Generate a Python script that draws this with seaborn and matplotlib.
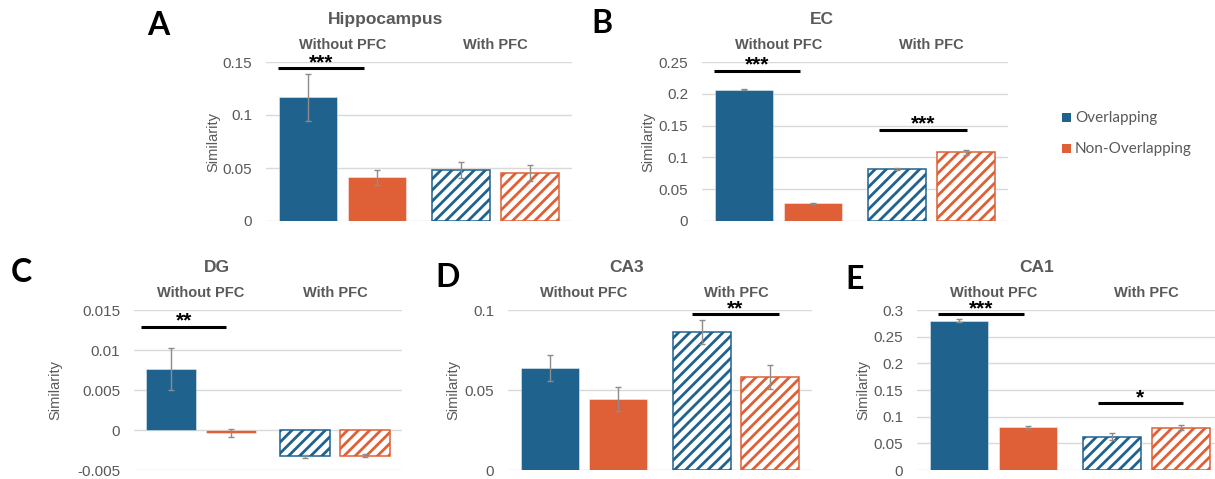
import numpy as np
import pandas as pd
import matplotlib
matplotlib.use('Agg')
import matplotlib.pyplot as plt
from matplotlib.patches import Rectangle
from matplotlib.ticker import FuncFormatter
import seaborn as sns

# ---------------- data ----------------
conditions = ['Without PFC', 'With PFC']
types = ['Overlapping', 'Non-Overlapping']
regions = ['Hippocampus', 'EC', 'DG', 'CA3', 'CA1']
panel_letters = ['A', 'B', 'C', 'D', 'E']

# order of values: [without-overlap, without-non, with-overlap, with-non]
hippocampus_mean = [0.1167, 0.0414, 0.0483, 0.0452]
hippocampus_err = [0.022, 0.007, 0.0075, 0.0072]
ec_mean = [0.2066, 0.0277, 0.0821, 0.1080]
ec_err = [0.0008, 0.0008, 0.0018, 0.0040]
dg_mean = [0.0076, -0.0004, -0.0033, -0.0032]
dg_err = [0.0026, 0.0005, 0.0002, 0.0002]
ca3_mean = [0.0638, 0.0442, 0.0863, 0.0581]
ca3_err = [0.0080, 0.0075, 0.0073, 0.0075]
ca1_mean = [0.2800, 0.0800, 0.0625, 0.0795]
ca1_err = [0.0030, 0.0030, 0.0060, 0.0040]

means = [hippocampus_mean, ec_mean, dg_mean, ca3_mean, ca1_mean]
errs = [hippocampus_err, ec_err, dg_err, ca3_err, ca1_err]

hippocampus_ticks = [0, 0.05, 0.1, 0.15]
ec_ticks = [0, 0.05, 0.1, 0.15, 0.2, 0.25]
dg_ticks = [-0.005, 0, 0.005, 0.01, 0.015]
ca3_ticks = [0, 0.05, 0.1]
ca1_ticks = [0, 0.05, 0.1, 0.15, 0.2, 0.25, 0.3]
yticks = [hippocampus_ticks, ec_ticks, dg_ticks, ca3_ticks, ca1_ticks]

# significance: (group index, start offset, end offset, y value, label)
hippocampus_sig = [(0, -0.42, 0.14, 0.1443, '***')]
ec_sig = [(0, -0.42, 0.14, 0.2364, '***'), (1, -0.34, 0.23, 0.1438, '***')]
dg_sig = [(0, -0.45, 0.19, 0.0129, '**')]
ca3_sig = [(1, -0.29, 0.28, 0.0973, '**')]
ca1_sig = [(0, -0.365, 0.20, 0.2925, '***'), (1, -0.32, 0.24, 0.1256, '*')]
sigs = [hippocampus_sig, ec_sig, dg_sig, ca3_sig, ca1_sig]

# ---------------- style ----------------
BLUE = '#1F628E'
ORANGE = '#DF6037'
GRAY_TXT = '#595959'
GRID = '#D9D9D9'
ERR = '#8C8C8C'

sns.set_theme(style='white')
plt.rcParams['font.family'] = ['Liberation Sans', 'DejaVu Sans']
plt.rcParams['hatch.linewidth'] = 2.0

W, H = 1215, 479
fig = plt.figure(figsize=(W / 100, H / 100), dpi=100)
fig.patch.set_facecolor('white')

# layout in pixels: axes (left, top, right, bottom)
axes_px = [(266, 62, 572, 221), (702, 62, 1008, 221),
           (134, 310, 402, 470), (508, 310, 812, 470), (917, 310, 1223, 470)]
title_px = [(386, 24), (822, 24), (217, 272), (627, 272), (1037, 272)]
letter_px = [(158, 35), (602, 33), (21, 282), (448, 287), (855, 289)]
ylabel_right_px = [220, 655, 62, 460, 870]


def px_axes(l, t, r, b):
    return fig.add_axes([l / W, 1 - b / H, (r - l) / W, (b - t) / H])


for i, reg in enumerate(regions):
    l, t, r, b = axes_px[i]
    ax = px_axes(l, t, r, b)
    df = pd.DataFrame({'condition': np.repeat(conditions, 2),
                       'type': types * 2,
                       'value': means[i]})
    sns.barplot(data=df, x='condition', y='value', hue='type',
                order=conditions, hue_order=types, palette=[BLUE, ORANGE],
                width=0.9, gap=0.16, errorbar=None, saturation=1,
                legend=False, ax=ax, zorder=2)
    bars = sorted(ax.patches, key=lambda p: p.get_x())
    xs = []
    for j, p in enumerate(bars):
        col = BLUE if j % 2 == 0 else ORANGE
        if j >= 2:
            p.set_facecolor('white')
            p.set_edgecolor(col)
            if hasattr(p, 'set_hatchcolor'):
                p.set_hatchcolor(col)
            p.set_hatch('///')
            p.set_linewidth(1.1)
        else:
            p.set_edgecolor((1, 1, 1, 0.5))
            p.set_linewidth(0.6)
        xs.append(p.get_x() + p.get_width() / 2)
    ax.errorbar(xs, means[i], yerr=errs[i], fmt='none', ecolor=ERR,
                elinewidth=1.0, capsize=2.5, capthick=1.0, zorder=3)

    ticks = yticks[i]
    ax.set_ylim(min(ticks), max(ticks))
    ax.set_xlim(-0.5, 1.5)
    ax.set_yticks(ticks)
    ax.yaxis.set_major_formatter(FuncFormatter(lambda v, pos: f'{v:g}'))
    ax.grid(axis='y', color=GRID, lw=1.0)
    ax.grid(axis='x', visible=False)
    ax.set_axisbelow(True)
    for s in ax.spines.values():
        s.set_visible(False)
    ax.tick_params(axis='y', length=0, pad=10, labelsize=11, labelcolor=GRAY_TXT)
    ax.xaxis.tick_top()
    ax.tick_params(axis='x', length=0, pad=7, labelsize=10.5, labelcolor=GRAY_TXT)
    for lbl in ax.get_xticklabels():
        lbl.set_fontweight('bold')
    ax.set_xlabel('')
    ax.set_ylabel('Similarity', fontsize=10.5, color=GRAY_TXT)
    ax.yaxis.set_label_coords((ylabel_right_px[i] - l) / (r - l), 0.5)

    for (g, x0, x1, yv, lab) in sigs[i]:
        ax.plot([g + x0, g + x1], [yv, yv], color='black', lw=2.2,
                solid_capstyle='butt', clip_on=False, zorder=4)
        ax.annotate(lab, xy=(g + (x0 + x1) / 2, yv), xytext=(0, 0),
                    textcoords='offset points', ha='center', va='baseline',
                    fontsize=15, fontweight='bold', color='black',
                    annotation_clip=False)

    tx, ty = title_px[i]
    fig.text(tx / W, 1 - ty / H, reg, ha='center', va='baseline',
             fontsize=12.5, fontweight='bold', color=GRAY_TXT)
    lx, ly = letter_px[i]
    fig.text(lx / W, 1 - ly / H, panel_letters[i], ha='center', va='baseline',
             fontsize=23, fontweight='bold', color='black',
             family=['Lato', 'DejaVu Sans'])

# legend
leg_items = [(BLUE, types[0], 117), (ORANGE, types[1], 148)]
for col, lab, yc in leg_items:
    fig.patches.append(Rectangle(((1062) / W, 1 - (yc + 4.5) / H), 9 / W, 9 / H,
                                 transform=fig.transFigure, facecolor=col,
                                 edgecolor='none'))
    fig.text(1075 / W, 1 - (yc + 5) / H, lab, ha='left', va='baseline',
             fontsize=11, color=GRAY_TXT, family=['Lato', 'DejaVu Sans'])

fig.savefig('out.png', dpi=100)
